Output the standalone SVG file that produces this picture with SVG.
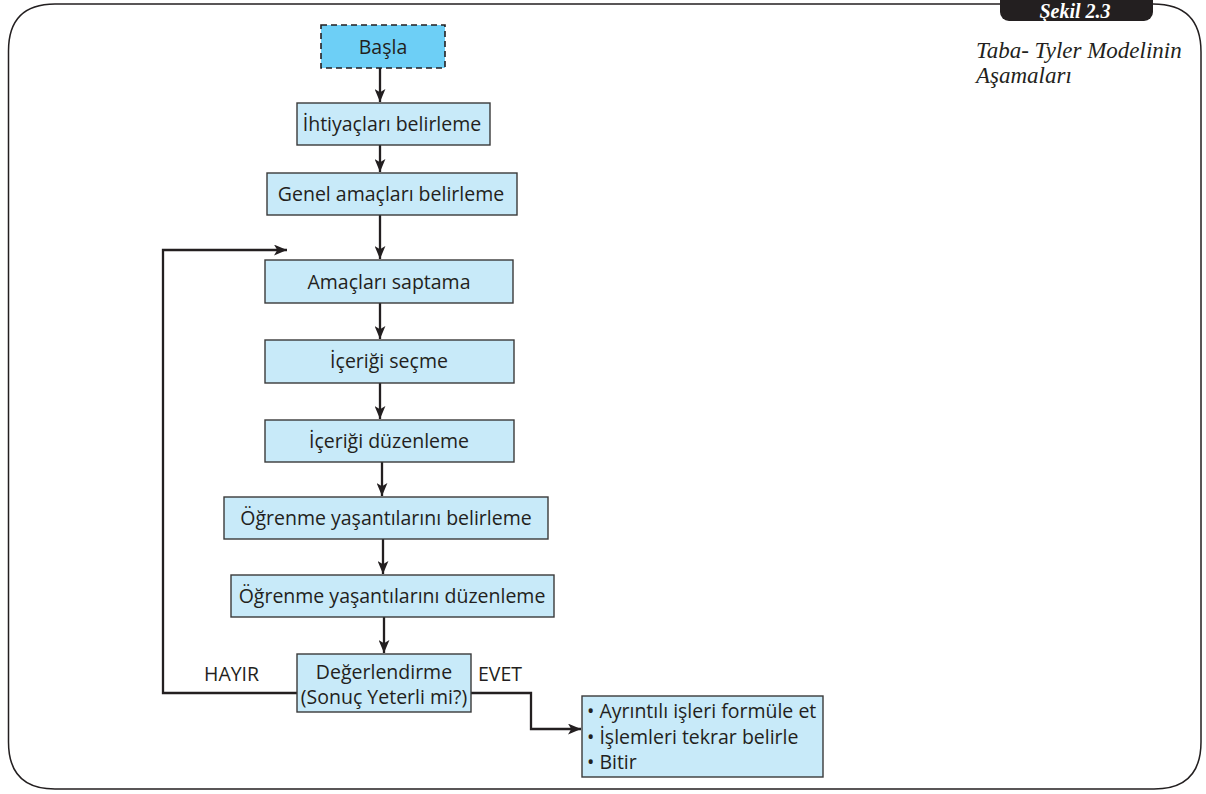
<svg xmlns="http://www.w3.org/2000/svg" width="1206" height="794" viewBox="0 0 1206 794">
<defs>
<style>
.box{fill:#c8eaf9;stroke:#3a3a3a;stroke-width:1.4}
.t{font-family:"Open Sans","Noto Sans","Liberation Sans",sans-serif;font-size:19.5px;fill:#231f20;text-anchor:middle}
.tl{font-family:"Open Sans","Noto Sans","Liberation Sans",sans-serif;font-size:19.5px;fill:#231f20}
.c{fill:none;stroke:#231f20;stroke-width:2.3}
.cap{font-family:"Liberation Serif",serif;font-style:italic;font-size:23px;fill:#231f20}
</style>
<marker id="ah" viewBox="0 0 12 10" refX="12" refY="5" markerWidth="13" markerHeight="11" markerUnits="userSpaceOnUse" orient="auto">
<path d="M0,0 L12,5 L0,10 L3,5 Z" fill="#231f20"/>
</marker>
</defs>
<g id="frame">
<path d="M1153,4 Q1201,4 1201,52 L1201,742 Q1201,789 1154,789 L55,789 Q8.5,789 8.5,742 L8.5,51 Q8.5,4 55,4 L1000,4" fill="none" stroke="#231f20" stroke-width="1.5"/>
<rect x="1000" y="-12" width="153" height="33" rx="9" fill="#231f20"/>
<text x="1075" y="18" font-family="Liberation Serif,serif" font-style="italic" font-weight="bold" font-size="20" fill="#ffffff" text-anchor="middle">Şekil 2.3</text>
<text class="cap" x="976" y="58">Taba- Tyler Modelinin</text>
<text class="cap" x="976" y="83">Aşamaları</text>
</g>
<g id="connectors">
<line class="c" x1="380" y1="68" x2="380" y2="102" marker-end="url(#ah)"/>
<line class="c" x1="380" y1="145" x2="380" y2="172" marker-end="url(#ah)"/>
<line class="c" x1="380" y1="215" x2="380" y2="259" marker-end="url(#ah)"/>
<line class="c" x1="380" y1="303" x2="380" y2="339" marker-end="url(#ah)"/>
<line class="c" x1="380" y1="383" x2="380" y2="419" marker-end="url(#ah)"/>
<line class="c" x1="382" y1="462" x2="382" y2="496" marker-end="url(#ah)"/>
<line class="c" x1="383" y1="539" x2="383" y2="574" marker-end="url(#ah)"/>
<line class="c" x1="384" y1="617" x2="384" y2="653" marker-end="url(#ah)"/>
<polyline class="c" points="297,693 163,693 163,250 287,250" marker-end="url(#ah)"/>
<polyline class="c" points="471,693 531,693 531,729 581,729" marker-end="url(#ah)"/>
</g>
<g id="n_basla">
<rect x="321" y="25" width="124" height="43" fill="#6dcff6" stroke="#231f20" stroke-width="1.6" stroke-dasharray="6,4"/>
<text class="t" x="383" y="54">Başla</text>
</g>
<g id="n_ihtiyac">
<rect class="box" x="297" y="103" width="193" height="42"/>
<text class="t" x="392" y="131">İhtiyaçları belirleme</text>
</g>
<g id="n_genel">
<rect class="box" x="267" y="173" width="250" height="42"/>
<text class="t" x="391" y="201">Genel amaçları belirleme</text>
</g>
<g id="n_amac">
<rect class="box" x="265" y="260" width="248" height="43"/>
<text class="t" x="389" y="289">Amaçları saptama</text>
</g>
<g id="n_secme">
<rect class="box" x="265" y="340" width="249" height="43"/>
<text class="t" x="389" y="368">İçeriği seçme</text>
</g>
<g id="n_duzen">
<rect class="box" x="265" y="420" width="249" height="42"/>
<text class="t" x="389" y="448">İçeriği düzenleme</text>
</g>
<g id="n_ogr_bel">
<rect class="box" x="224" y="497" width="324" height="42"/>
<text class="t" x="386" y="525">Öğrenme yaşantılarını belirleme</text>
</g>
<g id="n_ogr_duz">
<rect class="box" x="231" y="575" width="323" height="42"/>
<text class="t" x="392" y="603">Öğrenme yaşantılarını düzenleme</text>
</g>
<g id="n_deger">
<rect class="box" x="297" y="654" width="174" height="58"/>
<text class="t" x="384" y="679">Değerlendirme</text>
<text class="t" x="384" y="704">(Sonuç Yeterli mi?)</text>
</g>
<g id="labels">
<text class="tl" x="204" y="681">HAYIR</text>
<text class="tl" x="478" y="681">EVET</text>
</g>
<g id="n_son">
<rect class="box" x="582" y="696" width="241" height="81"/>
<text class="tl" x="587" y="718">• Ayrıntılı işleri formüle et</text>
<text class="tl" x="587" y="744">• İşlemleri tekrar belirle</text>
<text class="tl" x="587" y="769">• Bitir</text>
</g>
</svg>
